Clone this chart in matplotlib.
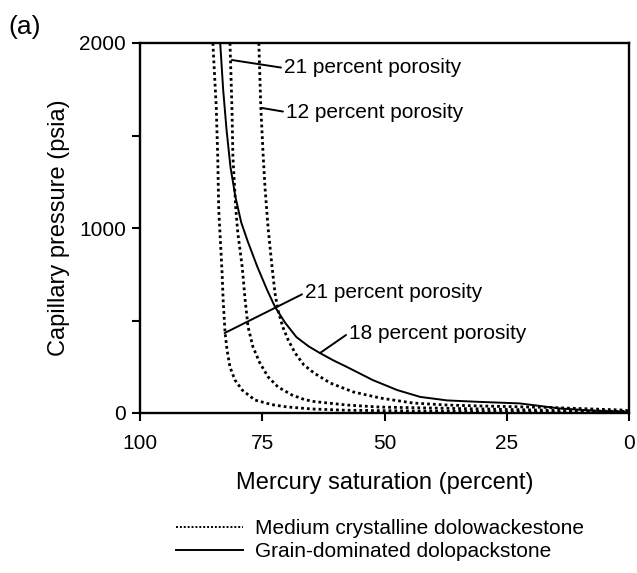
import numpy as np
import matplotlib
matplotlib.use('Agg')
import matplotlib.pyplot as plt
from matplotlib.lines import Line2D
from matplotlib.ticker import MultipleLocator

plt.rcParams['font.family'] = ['Liberation Sans', 'DejaVu Sans']

# Medium crystalline dolowackestone (dotted) - three samples
sat_wacke_a = [85.1, 84.4, 84.1, 83.9, 83.5, 83.2, 83.0, 82.6, 82.2, 81.6, 80.6,
               79.1, 76.5, 73.0, 70.0, 65.0, 58.0, 45.0, 30.0, 0.0]
pc_wacke_a = [2000, 1650, 1380, 1100, 900, 750, 611, 433, 341, 249, 179,
              124, 70, 45, 33, 22, 15, 11, 8, 5]

sat_wacke_b = [81.6, 81.2, 81.0, 80.4, 80.0, 79.1, 78.5, 77.9, 76.9, 75.5, 73.8,
               71.8, 68.9, 66.3, 64.4, 57.7, 50.9, 40.7, 30.5, 15.0, 0.0]
pc_wacke_b = [2000, 1655, 1385, 1100, 974, 790, 611, 465, 357, 271, 195,
              141, 97, 72, 62, 43, 32, 27, 22, 14, 8]

sat_wacke_c = [75.7, 75.3, 74.8, 74.4, 73.8, 73.0, 72.4, 71.8, 70.8, 69.7, 68.3,
               66.5, 64.4, 61.1, 56.4, 50.9, 44.2, 37.2, 30.5, 16.3, 1.4, 0.0]
pc_wacke_c = [2000, 1655, 1385, 1205, 1000, 790, 649, 557, 465, 395, 325,
              260, 216, 162, 114, 81, 54, 43, 38, 30, 16, 12]

# Grain-dominated dolopackstone (solid)
sat_pack = [83.6, 83.0, 82.3, 81.5, 80.5, 79.3, 78.0, 76.0, 74.0, 72.4, 70.3,
            68.0, 65.5, 63.2, 60.5, 57.7, 52.4, 47.4, 42.7, 37.2, 30.5, 22.4,
            14.3, 7.0, 0.0]
pc_pack = [2000, 1750, 1530, 1330, 1170, 1030, 930, 790, 665, 574, 487,
           410, 360, 324, 285, 249, 178, 124, 87, 68, 60, 52,
           25, 12, 5]

fig = plt.figure(figsize=(6.37, 5.73), dpi=100)
ax = fig.add_axes([140 / 637, 1 - 413 / 573, 489 / 637, 370 / 573])

dots = (0, (1, 1.1))
ax.plot(sat_wacke_a, pc_wacke_a, color='black', lw=2, linestyle=dots)
ax.plot(sat_wacke_b, pc_wacke_b, color='black', lw=2, linestyle=dots)
ax.plot(sat_wacke_c, pc_wacke_c, color='black', lw=2, linestyle=dots)
ax.plot(sat_pack, pc_pack, color='black', lw=1.4)

ax.set_xlim(100, 0)
ax.set_ylim(0, 2000)
ax.set_xticks([100, 75, 50, 25, 0])
ax.set_yticks([0, 1000, 2000])
ax.yaxis.set_minor_locator(MultipleLocator(500))
ax.tick_params(axis='both', which='both', direction='out', length=6, width=1.5,
               labelsize=15)
ax.tick_params(axis='x', pad=9)
ax.tick_params(axis='y', pad=4)
for s in ax.spines.values():
    s.set_linewidth(1.7)

ax.set_xlabel('Mercury saturation (percent)', fontsize=17)
ax.set_ylabel('Capillary pressure (psia)', fontsize=17)
ax.xaxis.set_label_coords(0.5, -0.16)
ax.yaxis.set_label_coords(-0.143, 0.5)

arrow = dict(arrowstyle='-', color='black', lw=1.4, shrinkA=0, shrinkB=0,
             relpos=(0, 0.5))
ax.annotate('21 percent porosity', xy=(81.2, 1908), xytext=(70.6, 1865),
            fontsize=15, va='center', ha='left', arrowprops=arrow)
ax.annotate('12 percent porosity', xy=(75.1, 1649), xytext=(70.2, 1627),
            fontsize=15, va='center', ha='left', arrowprops=arrow)
ax.annotate('21 percent porosity', xy=(82.7, 432), xytext=(66.3, 649),
            fontsize=15, va='center', ha='left', arrowprops=arrow)
ax.annotate('18 percent porosity', xy=(63.2, 324), xytext=(57.3, 432),
            fontsize=15, va='center', ha='left', arrowprops=arrow)

fig.text(25 / 637, 1 - 27 / 573, '(a)', fontsize=19, ha='center', va='center')

handles = [Line2D([], [], color='black', lw=1.4, linestyle=(0, (1, 1))),
           Line2D([], [], color='black', lw=1.4)]
fig.legend(handles,
           ['Medium crystalline dolowackestone', 'Grain-dominated dolopackstone'],
           loc='center left', bbox_to_anchor=(176 / 637, 1 - 540 / 573),
           frameon=False, fontsize=15, handlelength=3.2, handletextpad=0.6,
           labelspacing=0.2, borderpad=0, borderaxespad=0)

fig.savefig('out.png', dpi=100)
